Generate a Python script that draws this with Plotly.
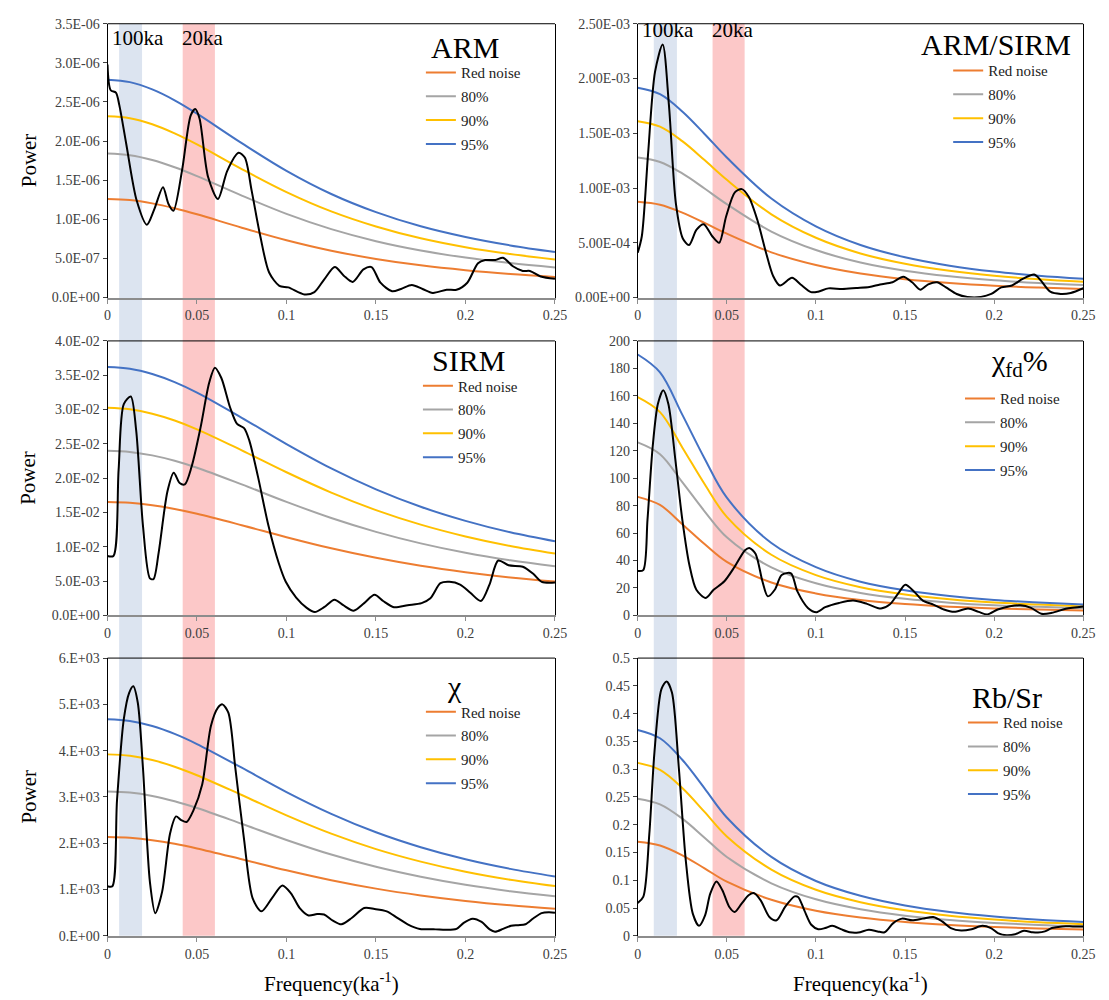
import plotly.graph_objects as go

# ---------------- data ----------------
# common frequency grid for red-noise / confidence curves
NOISE_F = [0, 0.0125, 0.025, 0.0375, 0.05, 0.075, 0.1, 0.125, 0.15, 0.175, 0.2, 0.225, 0.25]

# ARM (x 1e-6)
ARM_F = [0, .0018, .0047, .0066, .0105, .0163, .022, .026, .031, .034, .0368, .0416, .0465, .049, .0514,
         .0562, .0617, .0669, .0732, .0767, .0805, .0854, .0903, .096, .101, .11, .1156, .121, .127, .132,
         .137, .143, .1475, .1525, .159, .164, .170, .176, .1817, .1895, .195, .201, .207, .211, .2167,
         .221, .2265, .232, .236, .242, .25]
ARM_P = [2.98, 2.65, 2.62, 2.46, 1.96, 1.24, 0.93, 1.12, 1.41, 1.20, 1.11, 1.62, 2.33, 2.41, 2.29,
         1.54, 1.26, 1.62, 1.85, 1.79, 1.37, 0.78, 0.32, 0.15, 0.13, 0.04, 0.07, 0.23, 0.39, 0.28,
         0.20, 0.36, 0.39, 0.19, 0.08, 0.11, 0.16, 0.11, 0.06, 0.10, 0.10, 0.19, 0.44, 0.48, 0.48,
         0.51, 0.40, 0.34, 0.34, 0.27, 0.24]
ARM_RED = [1.260, 1.246, 1.204, 1.141, 1.064, 0.893, 0.733, 0.599, 0.494, 0.412, 0.350, 0.302, 0.264]
ARM_80 = [1.840, 1.819, 1.758, 1.666, 1.553, 1.304, 1.070, 0.875, 0.721, 0.602, 0.511, 0.441, 0.385]
ARM_90 = [2.318, 2.293, 2.215, 2.099, 1.958, 1.643, 1.349, 1.102, 0.909, 0.758, 0.644, 0.556, 0.486]
ARM_95 = [2.785, 2.754, 2.661, 2.522, 2.351, 1.974, 1.620, 1.324, 1.092, 0.911, 0.774, 0.667, 0.583]

# ARM/SIRM (x 1e-3)
AS_F = [0, .0023, .0058, .0097, .014, .0175, .0214, .0253, .0288, .033, .037, .0418, .0457, .0496, .0545,
        .0584, .0623, .0671, .072, .0759, .0798, .0866, .0914, .0973, .1012, .107, .1148, .1226, .130,
        .136, .143, .149, .154, .1586, .163, .168, .173, .179, .185, .1926, .1984, .204, .210, .216,
        .2225, .2265, .2315, .2374, .243, .25]
AS_P = [.41, .56, 1.31, 2.06, 2.31, 1.76, .86, .54, .48, .62, .67, .56, .50, .74, .96,
        .99, .92, .71, .41, .20, .11, .18, .12, .05, .054, .084, .078, .087, .096,
        .12, .14, .19, .14, .072, .12, .14, .093, .033, .006, .006, .033, .093, .11, .17,
        .21, .15, .054, .033, .042, .085]
AS_RED = [.875, .848, .776, .682, .584, .413, .297, .219, .168, .133, .108, .091, .078]
AS_80 = [1.278, 1.238, 1.133, .996, .853, .603, .434, .320, .245, .194, .158, .133, .114]
AS_90 = [1.610, 1.560, 1.428, 1.255, 1.075, .760, .546, .403, .309, .245, .199, .167, .144]
AS_95 = [1.916, 1.857, 1.699, 1.494, 1.279, .904, .650, .480, .368, .291, .237, .199, .171]

# SIRM (x 1e-2)
SIRM_F = [0, .0033, .0062, .0091, .013, .016, .0198, .0237, .0257, .0286, .0335, .037, .0403, .0432, .047,
          .052, .0568, .060, .0636, .0685, .0724, .0763, .0792, .084, .0899, .0957, .0996, .1054, .1113,
          .1158, .121, .1268, .1317, .1375, .1434, .1492, .154, .160, .1677, .1755, .1804, .186, .191,
          .197, .2027, .2086, .2134, .2183, .2241, .232, .2377, .2426, .25]
SIRM_P = [.867, .867, 2.12, 3.08, 3.19, 2.70, 1.31, .54, .53, .92, 1.81, 2.08, 1.93, 1.91, 2.17,
          2.74, 3.39, 3.61, 3.46, 3.03, 2.79, 2.73, 2.55, 2.03, 1.31, .76, .49, .26, .11,
          .05, .12, .23, .15, .07, .18, .30, .21, .12, .15, .18, .25, .47, .49,
          .45, .33, .21, .45, .80, .73, .71, .61, .49, .48]
SIRM_RED = [1.653, 1.641, 1.606, 1.552, 1.482, 1.315, 1.140, .978, .839, .723, .629, .553, .493]
SIRM_80 = [2.400, 2.383, 2.332, 2.254, 2.152, 1.909, 1.655, 1.420, 1.218, 1.050, .913, .803, .716]
SIRM_90 = [3.025, 3.003, 2.939, 2.840, 2.712, 2.406, 2.086, 1.790, 1.535, 1.323, 1.151, 1.012, .902]
SIRM_95 = [3.620, 3.594, 3.517, 3.399, 3.246, 2.880, 2.497, 2.142, 1.837, 1.583, 1.378, 1.211, 1.080]

# chi_fd %
FD_F = [0, .0031, .0055, .0084, .0113, .0143, .0172, .0211, .025, .029, .0329, .0382, .0426, .0485, .0544,
        .0602, .0626, .0661, .070, .073, .0769, .0808, .086, .0896, .0955, .1004, .1052, .113, .1209,
        .1287, .1365, .1414, .1463, .1502, .155, .160, .1659, .1718, .1776, .1854, .1913, .1962, .202,
        .2089, .2148, .2207, .2265, .2324, .2402, .25]
FD_P = [32.4, 33, 70, 123, 154, 164, 154, 113.6, 70, 36.7, 18.7, 12.7, 18.7, 24.7, 35.5,
        47.5, 49.2, 45, 24.7, 13.9, 18.7, 29.5, 30.7, 17.5, 5.5, 2.4, 6, 9.1, 10.8,
        8.4, 5, 7.9, 16.3, 22.3, 17.5, 10.8, 7.9, 4.3, 2.6, 5, 2.6, 0.7, 4.3,
        6.7, 7.4, 5.5, 1.2, 1.9, 4.8, 6.5]
FD_RED = [86.4, 80.5, 66.5, 52.0, 39.0, 24.0, 16.0, 11.2, 8.3, 6.4, 5.1, 4.3, 3.6]
FD_80 = [126.1, 117.5, 97.1, 75.9, 56.9, 35.0, 23.4, 16.4, 12.1, 9.3, 7.4, 6.3, 5.3]
FD_90 = [159.0, 148.1, 122.4, 95.7, 71.8, 44.2, 29.4, 20.6, 15.3, 11.8, 9.4, 7.9, 6.6]
FD_95 = [190.1, 177.1, 146.3, 114.4, 85.8, 52.8, 35.2, 24.6, 18.3, 14.1, 11.2, 9.5, 7.9]

# chi (x 1e3)
CHI_F = [0, .0027, .0053, .0091, .0121, .0144, .0169, .0198, .0237, .0267, .0305, .035, .0383, .0412, .0442,
         .048, .0529, .0578, .0617, .0642, .0675, .0714, .0763, .0811, .086, .0918, .0977, .1025, .1074,
         .1123, .1171, .121, .1259, .1307, .1366, .1434, .1492, .156, .1619, .1677, .1745, .1833, .1891,
         .195, .199, .204, .209, .2135, .2165, .221, .2255, .2295, .2335, .238, .2425, .2465, .25]
CHI_P = [1.07, 1.07, 2.92, 4.68, 5.25, 5.39, 5.04, 3.63, 1.16, .49, .95, 2.22, 2.58, 2.50, 2.46,
         2.71, 3.27, 4.54, 4.93, 5.00, 4.82, 3.63, 2.08, .81, .53, .81, 1.09, .92, .60,
         .44, .47, .46, .33, .25, .39, .60, .58, .53, .39, .25, .15, .14, .13,
         .15, .28, .37, .30, .14, .09, .15, .22, .23, .25, .38, .49, .51, .50]
CHI_RED = [2.134, 2.117, 2.067, 1.989, 1.889, 1.656, 1.417, 1.202, 1.020, .873, .754, .660, .585]
CHI_80 = [3.120, 3.095, 3.022, 2.908, 2.762, 2.421, 2.072, 1.757, 1.491, 1.276, 1.102, .965, .855]
CHI_90 = [3.920, 3.889, 3.797, 3.654, 3.470, 3.042, 2.603, 2.208, 1.874, 1.604, 1.385, 1.212, 1.075]
CHI_95 = [4.680, 4.643, 4.533, 4.362, 4.143, 3.632, 3.107, 2.636, 2.237, 1.914, 1.654, 1.447, 1.283]

# Rb/Sr
RB_F = [0, .0031, .0065, .0094, .0133, .0162, .0192, .0231, .027, .0309, .0344, .0378, .0407, .0442, .0475,
        .0514, .0544, .0583, .0622, .0651, .069, .0739, .0779, .0827, .088, .09, .0935, .0974, .1013,
        .1052, .1092, .114, .1189, .1238, .1297, .1346, .1385, .1434, .1483, .1541, .16, .1659, .1708,
        .1757, .1815, .1874, .1933, .1982, .2021, .207, .2119, .2167, .2216, .2246, .2285, .2324, .2383,
        .2441, .25]
RB_P = [.059, .070, .183, .331, .444, .458, .438, .301, .135, .040, .018, .037, .076, .098, .082,
        .052, .043, .058, .073, .077, .064, .034, .028, .052, .071, .070, .046, .020, .012,
        .014, .018, .012, .0065, .006, .011, .008, .0065, .023, .031, .028, .031, .034, .026,
        .014, .0095, .012, .018, .014, .005, .001, .003, .009, .0065, .006, .008, .014, .017,
        .017, .017]
RB_RED = [.1696, .1627, .1450, .1215, .0975, .0650, .0452, .0330, .0250, .0197, .0160, .0133, .0115]
RB_80 = [.2468, .2367, .2110, .1768, .1419, .0946, .0658, .0480, .0364, .0287, .0233, .0194, .0167]
RB_90 = [.3114, .2987, .2662, .2231, .1790, .1193, .0830, .0606, .0459, .0362, .0294, .0244, .0211]
RB_95 = [.3707, .3557, .3170, .2656, .2131, .1421, .0988, .0721, .0547, .0431, .0350, .0291, .0251]

# tick labels
X_TICKS = [0, 0.05, 0.1, 0.15, 0.2, 0.25]
X_TICKTEXT = ["0", "0.05", "0.1", "0.15", "0.2", "0.25"]
ARM_TICKS = [0, 0.5, 1.0, 1.5, 2.0, 2.5, 3.0, 3.5]
ARM_TICKTEXT = ["0.0E+00", "5.0E-07", "1.0E-06", "1.5E-06", "2.0E-06", "2.5E-06", "3.0E-06", "3.5E-06"]
AS_TICKS = [0, 0.5, 1.0, 1.5, 2.0, 2.5]
AS_TICKTEXT = ["0.00E+00", "5.00E-04", "1.00E-03", "1.50E-03", "2.00E-03", "2.50E-03"]
SIRM_TICKS = [0, 0.5, 1.0, 1.5, 2.0, 2.5, 3.0, 3.5, 4.0]
SIRM_TICKTEXT = ["0.0E+00", "5.0E-03", "1.0E-02", "1.5E-02", "2.0E-02", "2.5E-02", "3.0E-02", "3.5E-02", "4.0E-02"]
FD_TICKS = [0, 20, 40, 60, 80, 100, 120, 140, 160, 180, 200]
FD_TICKTEXT = [str(v) for v in FD_TICKS]
CHI_TICKS = [0, 1, 2, 3, 4, 5, 6]
CHI_TICKTEXT = ["0.E+00", "1.E+03", "2.E+03", "3.E+03", "4.E+03", "5.E+03", "6.E+03"]
RB_TICKS = [0, 0.05, 0.1, 0.15, 0.2, 0.25, 0.3, 0.35, 0.4, 0.45, 0.5]
RB_TICKTEXT = ["0", "0.05", "0.1", "0.15", "0.2", "0.25", "0.3", "0.35", "0.4", "0.45", "0.5"]

LEVELS = ["Red noise", "80%", "90%", "95%"]
BAND_100KA_LEFT = [0.0065, 0.0193]
BAND_100KA_RIGHT = [0.009, 0.022]
BAND_20KA = [0.042, 0.060]

# ---------------- styling ----------------
SERIF = "Liberation Serif"
LEVEL_COLORS = ["#ED7D31", "#A5A5A5", "#FFC000", "#4472C4"]
X_DOM = {"L": [0.0947, 0.5041], "R": [0.5798, 0.9874]}
Y_DOM = [[0.705, 0.983], [0.3823, 0.661], [0.057, 0.339]]

panels = [
    dict(title="ARM", f=ARM_F, p=ARM_P, lv=[ARM_RED, ARM_80, ARM_90, ARM_95], yt=ARM_TICKS, ytt=ARM_TICKTEXT,
         col="L", row=0, tpos=(0.800, 0.912), leg=(423, 50)),
    dict(title="ARM/SIRM", f=AS_F, p=AS_P, lv=[AS_RED, AS_80, AS_90, AS_95], yt=AS_TICKS, ytt=AS_TICKTEXT,
         col="R", row=0, tpos=(0.805, 0.924), leg=(958, 48)),
    dict(title="SIRM", f=SIRM_F, p=SIRM_P, lv=[SIRM_RED, SIRM_80, SIRM_90, SIRM_95], yt=SIRM_TICKS,
         ytt=SIRM_TICKTEXT, col="L", row=1, tpos=(0.806, 0.928), leg=(420, 368)),
    dict(title="χ<sub>fd</sub>%", f=FD_F, p=FD_P, lv=[FD_RED, FD_80, FD_90, FD_95], yt=FD_TICKS, ytt=FD_TICKTEXT,
         col="R", row=1, tpos=(0.856, 0.918), leg=(970, 381)),
    dict(title="χ", f=CHI_F, p=CHI_P, lv=[CHI_RED, CHI_80, CHI_90, CHI_95], yt=CHI_TICKS, ytt=CHI_TICKTEXT,
         col="L", row=2, tpos=(0.775, 0.897), leg=(423, 699)),
    dict(title="Rb/Sr", f=RB_F, p=RB_P, lv=[RB_RED, RB_80, RB_90, RB_95], yt=RB_TICKS, ytt=RB_TICKTEXT,
         col="R", row=2, tpos=(0.830, 0.858), leg=(973, 710)),
]

fig = go.Figure()
layout = dict(
    width=1109, height=1000, margin=dict(l=0, r=0, t=0, b=0),
    paper_bgcolor="white", plot_bgcolor="rgba(0,0,0,0)",
    font=dict(family=SERIF, color="#000000"),
    shapes=[], annotations=[],
)

for i, pn in enumerate(panels, start=1):
    sx = "" if i == 1 else str(i)
    xa, ya = "x" + sx, "y" + sx
    leg = "legend" + sx
    for k, (name, vals) in enumerate(zip(LEVELS, pn["lv"])):
        fig.add_trace(go.Scatter(
            x=NOISE_F, y=vals, mode="lines", name=name, xaxis=xa, yaxis=ya, legend=leg,
            legendgroup=f"g{i}_{k}",
            line=dict(color=LEVEL_COLORS[k], width=2, shape="spline", smoothing=1),
            hoverinfo="skip"))
    fig.add_trace(go.Scatter(
        x=pn["f"], y=pn["p"], mode="lines", name="spectrum", showlegend=False, xaxis=xa, yaxis=ya,
        line=dict(color="#000000", width=2, shape="spline", smoothing=0.8), hoverinfo="skip"))

    layout["xaxis" + sx] = dict(
        domain=X_DOM[pn["col"]], anchor=ya, range=[0, 0.25], tickvals=X_TICKS, ticktext=X_TICKTEXT,
        showline=True, linecolor="#8c8c8c", linewidth=2, ticks="outside", ticklen=4, tickcolor="#8c8c8c",
        showgrid=False, zeroline=False, tickfont=dict(family=SERIF, size=14, color="#404040"))
    layout["yaxis" + sx] = dict(
        domain=Y_DOM[pn["row"]], anchor=xa, range=[0, pn["yt"][-1]], tickvals=pn["yt"], ticktext=pn["ytt"],
        showline=True, linecolor="#000000", linewidth=1, mirror=True, ticks="outside", ticklen=4,
        tickcolor="#404040", showgrid=False, zeroline=False,
        tickfont=dict(family=SERIF, size=14, color="#404040"))
    layout[leg] = dict(
        x=pn["leg"][0] / 1109, y=1 - pn["leg"][1] / 1000, xanchor="left", yanchor="top",
        bgcolor="rgba(0,0,0,0)", font=dict(family=SERIF, size=15, color="#222222"),
        itemwidth=30, traceorder="grouped", tracegroupgap=1.3)
    # top border
    layout["shapes"].append(dict(type="line", xref=xa + " domain", yref=ya + " domain",
                                 x0=0, x1=1, y0=1, y1=1, line=dict(color="#000000", width=1)))
    # panel title
    layout["annotations"].append(dict(
        text=pn["title"], xref=xa + " domain", yref=ya + " domain", x=pn["tpos"][0], y=pn["tpos"][1],
        xanchor="center", yanchor="middle", showarrow=False, font=dict(family=SERIF, size=30, color="#000000")))

# period bands spanning each column
for xa, b100 in (("x", BAND_100KA_LEFT), ("x2", BAND_100KA_RIGHT)):
    layout["shapes"].append(dict(type="rect", xref=xa, yref="paper", x0=b100[0], x1=b100[1],
                                 y0=Y_DOM[2][0], y1=Y_DOM[0][1], fillcolor="#DCE4F0",
                                 line=dict(width=0), layer="below"))
    layout["shapes"].append(dict(type="rect", xref=xa, yref="paper", x0=BAND_20KA[0], x1=BAND_20KA[1],
                                 y0=Y_DOM[2][0], y1=Y_DOM[0][1], fillcolor="#FCC8C8",
                                 line=dict(width=0), layer="below"))

# band labels
for xa, ya, ypos, x100, x20 in (("x", "y", 0.949, 0.006, 0.163), ("x2", "y2", 0.978, 0.006, 0.163)):
    layout["annotations"].append(dict(text="100ka", xref=xa + " domain", yref=ya + " domain", x=x100, y=ypos,
                                      xanchor="left", yanchor="middle", showarrow=False,
                                      font=dict(family=SERIF, size=21, color="#000000")))
    layout["annotations"].append(dict(text="20ka", xref=xa + " domain", yref=ya + " domain", x=x20, y=ypos,
                                      xanchor="left", yanchor="middle", showarrow=False,
                                      font=dict(family=SERIF, size=21, color="#000000")))

# axis titles
for ya in ("y", "y3", "y5"):
    layout["annotations"].append(dict(text="Power", xref="paper", yref=ya + " domain", x=25 / 1109, y=0.5,
                                      textangle=-90, xanchor="center", yanchor="middle", showarrow=False,
                                      font=dict(family=SERIF, size=21, color="#000000")))
for xa in ("x5", "x6"):
    layout["annotations"].append(dict(text="Frequency(ka<sup>-1</sup>)", xref=xa + " domain", yref="paper",
                                      x=0.5, y=0.010, xanchor="center", yanchor="middle",
                                      showarrow=False, font=dict(family=SERIF, size=21, color="#000000")))

fig.update_layout(**layout)
fig.write_html("out.html")
